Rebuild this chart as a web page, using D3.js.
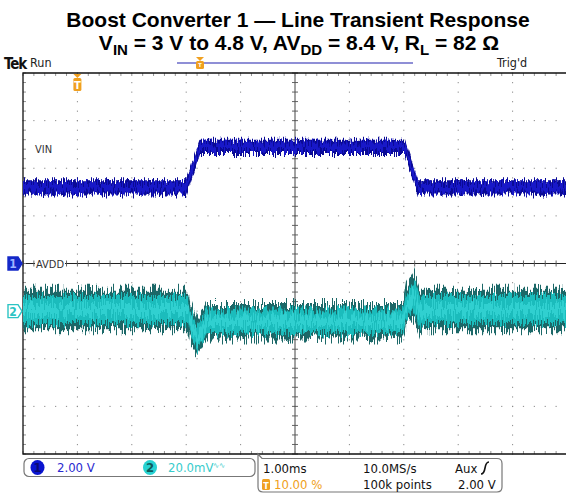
<!DOCTYPE html>
<html>
<head>
<meta charset="utf-8">
<script src="https://cdn.jsdelivr.net/npm/d3@7"></script>
<style>
  body { margin: 0; background: #fff; }
  svg { display: block; }
  .cond { font-family: "Liberation Sans Narrow", "DejaVu Sans Condensed", "Liberation Sans", sans-serif; }
</style>
</head>
<body>
<script>
// time axis in ms, relative to trigger (trigger at 10% of record)
const TIME_TICKS = d3.range(-1, 9.001, 1)

// CH1 VIN (volts): band envelope
const vinT = [-1, 2.0, 2.25, 6.02, 6.26, 9]
const vinHi = [3.5, 3.5, 5.2, 5.2, 3.5, 3.5]
const vinLo = [2.9, 2.9, 4.6, 4.6, 2.9, 2.9]

// CH2 AVDD (mV, AC coupled): band envelope
const avddT = [-1, 2.0, 2.03, 2.07, 2.2, 2.31, 2.38, 5.99, 6.04, 6.19, 6.30, 6.37, 9]
const avddHi = [9, 9, 9, 4, -4, 0, 3, 3, 10, 16, 9, 9, 9]
const avddLo = [-7.6, -7.6, -7.6, -12, -18.5, -14, -11.5, -11.5, -6, -3, -10, -7.6, -7.6]

const W = 566, H = 493
const pLeft = 23, pRight = 567, pTop = 73, pBottom = 454

const svg = d3.select('body').append('svg').attr('width', W).attr('height', H)

const x = d3.scaleLinear().domain([-1, 9]).range([pLeft, pRight])
const y1 = d3.scaleLinear().domain([-8, 8]).range([pBottom, pTop])     // 2 V/div
const y2 = d3.scaleLinear().domain([-60, 100]).range([pBottom, pTop])  // 20 mV/div
const yDiv = d3.scaleLinear().domain([-4, 4]).range([pBottom, pTop])

// noise filter: vertical jitter only
const defs = svg.append('defs')
function jag (id, freq, scale, seed) {
  const f = defs.append('filter').attr('id', id)
    .attr('x', '-2%').attr('y', '-60%').attr('width', '104%').attr('height', '220%')
    .attr('color-interpolation-filters', 'sRGB')
  f.append('feTurbulence').attr('type', 'fractalNoise')
    .attr('baseFrequency', freq).attr('numOctaves', 2).attr('seed', seed).attr('result', 'n')
  f.append('feColorMatrix').attr('in', 'n').attr('type', 'matrix')
    .attr('values', '0 0 0 0 0.5  0 1 0 0 0  0 0 0 0 0  0 0 0 0 1').attr('result', 'm')
  const ct = f.append('feComponentTransfer').attr('in', 'm').attr('result', 'c')
  ct.append('feFuncG').attr('type', 'linear').attr('slope', 2.6).attr('intercept', -0.8)
  f.append('feDisplacementMap').attr('in', 'SourceGraphic').attr('in2', 'c')
    .attr('scale', scale).attr('xChannelSelector', 'R').attr('yChannelSelector', 'G')
}
jag('jagA', '0.9 0.04', 12, 4)
jag('jagB', '0.8 0.05', 9, 11)
jag('jagV', '0.9 0.05', 7, 2)

// ---- graticule
const g = svg.append('g')
const minorX = d3.range(-1, 9.001, 0.2).map(x)
const minorY = d3.range(-4, 4.001, 0.2).map(yDiv)

// dotted division lines
TIME_TICKS.slice(1).forEach(t => {
  if (t === 4) return
  minorY.forEach(yy => g.append('rect').attr('x', x(t) - 0.5).attr('y', yy - 0.5)
    .attr('width', 1).attr('height', 1.2).attr('fill', '#8a8a8a'))
})
d3.range(-3, 4).forEach(d => {
  if (d === 0) return
  minorX.forEach(xx => g.append('rect').attr('x', xx - 0.6).attr('y', yDiv(d) - 0.5)
    .attr('width', 1.2).attr('height', 1).attr('fill', '#8a8a8a'))
})

// center axes with ticks
g.append('line').attr('x1', pLeft).attr('x2', pRight).attr('y1', yDiv(0)).attr('y2', yDiv(0))
  .attr('stroke', '#222').attr('stroke-width', 1.2)
g.append('line').attr('x1', x(4)).attr('x2', x(4)).attr('y1', pTop).attr('y2', pBottom)
  .attr('stroke', '#444').attr('stroke-width', 1)
minorX.forEach(xx => g.append('line').attr('x1', xx).attr('x2', xx)
  .attr('y1', yDiv(0) - 3).attr('y2', yDiv(0) + 3).attr('stroke', '#555').attr('stroke-width', 0.9))
minorY.forEach(yy => g.append('line').attr('x1', x(4) - 3).attr('x2', x(4) + 3)
  .attr('y1', yy).attr('y2', yy).attr('stroke', '#555').attr('stroke-width', 0.9))

// border + ticks
minorX.forEach(xx => {
  g.append('line').attr('x1', xx).attr('x2', xx).attr('y1', pTop).attr('y2', pTop + 3)
    .attr('stroke', '#888').attr('stroke-width', 0.9)
  g.append('line').attr('x1', xx).attr('x2', xx).attr('y1', pBottom - 3).attr('y2', pBottom)
    .attr('stroke', '#888').attr('stroke-width', 0.9)
})
minorY.forEach(yy => g.append('line').attr('x1', pLeft).attr('x2', pLeft + 3)
  .attr('y1', yy).attr('y2', yy).attr('stroke', '#888').attr('stroke-width', 0.9))
g.append('path').attr('d', `M${pRight},${pTop}H${pLeft}V${pBottom}H${pRight}`)
  .attr('fill', 'none').attr('stroke', '#111').attr('stroke-width', 1.3)

// ---- traces
const vinArea = d3.area().x((d, i) => x(vinT[i])).y0((d, i) => y1(vinLo[i])).y1((d, i) => y1(vinHi[i]))
svg.append('path').datum(vinT).attr('d', vinArea).attr('fill', '#0a0a96').attr('filter', 'url(#jagV)')
const vinInner = d3.area().x((d, i) => x(vinT[i]))
  .y0((d, i) => y1(vinLo[i] + (vinHi[i] - vinLo[i]) * 0.2))
  .y1((d, i) => y1(vinHi[i] - (vinHi[i] - vinLo[i]) * 0.2))
svg.append('path').datum(vinT).attr('d', vinInner).attr('fill', '#1818c8').attr('filter', 'url(#jagB)')

const avOuter = d3.area().x((d, i) => x(avddT[i])).y0((d, i) => y2(avddLo[i])).y1((d, i) => y2(avddHi[i]))
svg.append('path').datum(avddT).attr('d', avOuter).attr('fill', '#1c6868').attr('filter', 'url(#jagA)')
const avInner = d3.area().x((d, i) => x(avddT[i]))
  .y0((d, i) => y2(avddLo[i] + (avddHi[i] - avddLo[i]) * 0.16))
  .y1((d, i) => y2(avddHi[i] - (avddHi[i] - avddLo[i]) * 0.16))
svg.append('path').datum(avddT).attr('d', avInner).attr('fill', '#1bbcbc').attr('filter', 'url(#jagB)')
const avCore = d3.area().x((d, i) => x(avddT[i]))
  .y0((d, i) => y2(avddLo[i] + (avddHi[i] - avddLo[i]) * 0.36))
  .y1((d, i) => y2(avddHi[i] - (avddHi[i] - avddLo[i]) * 0.36))
svg.append('path').datum(avddT).attr('d', avCore).attr('fill', '#36d6d6').attr('opacity', 0.8).attr('filter', 'url(#jagA)')

// ---- labels on screen
svg.append('text').attr('class', 'cond').attr('x', 35).attr('y', 153)
  .attr('font-size', 11).attr('fill', '#333').text('VIN')
const av = svg.append('g')
av.append('rect').attr('x', 35).attr('y', yDiv(0) - 7).attr('width', 30).attr('height', 12).attr('fill', '#fff')
av.append('text').attr('class', 'cond').attr('x', 36).attr('y', yDiv(0) + 4)
  .attr('font-size', 11).attr('fill', '#333').text('AVDD')

// channel ground markers
function marker (yy, fill, stroke, txtFill, label) {
  const m = svg.append('g').attr('transform', `translate(8,${yy})`)
  m.append('path').attr('d', 'M0,-6.5H10L14,0L10,6.5H0Z')
    .attr('fill', fill).attr('stroke', stroke).attr('stroke-width', 1.4)
  m.append('text').attr('class', 'cond').attr('x', 5).attr('y', 4.5).attr('text-anchor', 'middle')
    .attr('font-size', 12).attr('font-weight', 'bold').attr('fill', txtFill).text(label)
}
marker(y1(0), '#1428c8', '#1428c8', '#9fb4ff', '1')
marker(y2(0), '#ffffff', '#2cc4c4', '#2cc4c4', '2')

// trigger position marker
function trig (xx, yTop, h) {
  const t = svg.append('g')
  t.append('path').attr('d', `M${xx - 4},${yTop}H${xx + 4}L${xx},${yTop + 4}Z`).attr('fill', '#f0a020')
  t.append('rect').attr('x', xx - 4).attr('y', yTop + 4).attr('width', 8).attr('height', h)
    .attr('rx', 1.5).attr('fill', '#f0a020')
  t.append('text').attr('x', xx).attr('y', yTop + 4 + h - 2.5).attr('text-anchor', 'middle')
    .attr('font-family', 'DejaVu Sans').attr('font-size', h - 3).attr('font-weight', 'bold')
    .attr('fill', '#fff').text('T')
}
trig(x(0), pTop + 1, 13)

// top line: record bar
svg.append('line').attr('x1', 177).attr('x2', 413).attr('y1', 63).attr('y2', 63)
  .attr('stroke', '#6a6ac8').attr('stroke-width', 1.5)
trig(200, 57, 8)
svg.append('text').attr('x', 4).attr('y', 69).attr('font-family', 'DejaVu Sans Condensed, DejaVu Sans')
  .attr('font-weight', 'bold').attr('font-size', 15).attr('letter-spacing', -1).attr('fill', '#111').text('Tek')
svg.append('text').attr('class', 'cond').attr('x', 30).attr('y', 67)
  .attr('font-size', 12.5).attr('fill', '#222').text('Run')
svg.append('text').attr('class', 'cond').attr('x', 497).attr('y', 67)
  .attr('font-size', 12.5).attr('fill', '#222').text("Trig'd")

// ---- title
const title = svg.append('g').attr('font-family', 'Liberation Sans, Arial, sans-serif')
  .attr('font-weight', 'bold').attr('fill', '#000').attr('text-anchor', 'middle')
title.append('text').attr('x', 298).attr('y', 26.5).attr('font-size', 21)
  .text('Boost Converter 1 \u2014 Line Transient Response')
const t2 = title.append('text').attr('x', 299).attr('y', 50).attr('font-size', 21)
t2.append('tspan').text('V')
t2.append('tspan').attr('font-size', 15).attr('dy', 5).text('IN')
t2.append('tspan').attr('dy', -5).text(' = 3 V to 4.8 V, AV')
t2.append('tspan').attr('font-size', 15).attr('dy', 5).text('DD')
t2.append('tspan').attr('dy', -5).text(' = 8.4 V, R')
t2.append('tspan').attr('font-size', 15).attr('dy', 5).text('L')
t2.append('tspan').attr('dy', -5).text(' = 82 \u03a9')

// ---- status bar
const sb = svg.append('g').attr('class', 'cond').attr('font-size', 13)
sb.append('rect').attr('x', 24).attr('y', 458.5).attr('width', 231).attr('height', 18)
  .attr('rx', 5).attr('fill', '#fff').attr('stroke', '#777').attr('stroke-width', 1.2)
sb.append('path').attr('d', 'M258,454 L262,458.5 H497 Q502,458.5 502,463.5 V487 Q502,492 497,492 H263 Q258,492 258,487 Z')
  .attr('fill', '#fff').attr('stroke', '#777').attr('stroke-width', 1.2)
sb.append('ellipse').attr('cx', 37.5).attr('cy', 467.5).attr('rx', 7).attr('ry', 7.5).attr('fill', '#0a14d0')
sb.append('text').attr('x', 37.5).attr('y', 472).attr('text-anchor', 'middle').attr('font-weight', 'bold')
  .attr('fill', '#0a0a70').text('1')
sb.append('text').attr('x', 57).attr('y', 472).attr('fill', '#2a2ad0').text('2.00 V')
sb.append('ellipse').attr('cx', 150).attr('cy', 467.5).attr('rx', 7).attr('ry', 7.5).attr('fill', '#28d2d2')
sb.append('text').attr('x', 150).attr('y', 472).attr('text-anchor', 'middle').attr('font-weight', 'bold')
  .attr('fill', '#0e5a5a').text('2')
sb.append('text').attr('x', 168).attr('y', 472).attr('fill', '#38cccc').text('20.0mV')
sb.append('text').attr('x', 213).attr('y', 468).attr('font-size', 8).attr('fill', '#38cccc').text('\u223f\u223f')
sb.append('text').attr('x', 263).attr('y', 473).attr('fill', '#111').text('1.00ms')
sb.append('text').attr('x', 363).attr('y', 473).attr('fill', '#111').text('10.0MS/s')
sb.append('text').attr('x', 455).attr('y', 473).attr('fill', '#111').text('Aux')
sb.append('path').attr('d', 'M481,474 Q484,474 485,468 Q486,462 489,462')
  .attr('fill', 'none').attr('stroke', '#111').attr('stroke-width', 1.6)
sb.append('rect').attr('x', 262).attr('y', 479).attr('width', 8).attr('height', 11).attr('rx', 1.5).attr('fill', '#f0a020')
sb.append('text').attr('x', 266).attr('y', 488.5).attr('text-anchor', 'middle').attr('font-size', 9)
  .attr('font-weight', 'bold').attr('fill', '#fff').text('T')
sb.append('text').attr('x', 274).attr('y', 489).attr('fill', '#f0a020').text('10.00 %')
sb.append('text').attr('x', 363).attr('y', 489).attr('fill', '#111').text('100k points')
sb.append('text').attr('x', 458).attr('y', 489).attr('fill', '#111').text('2.00 V')
</script>
</body>
</html>
